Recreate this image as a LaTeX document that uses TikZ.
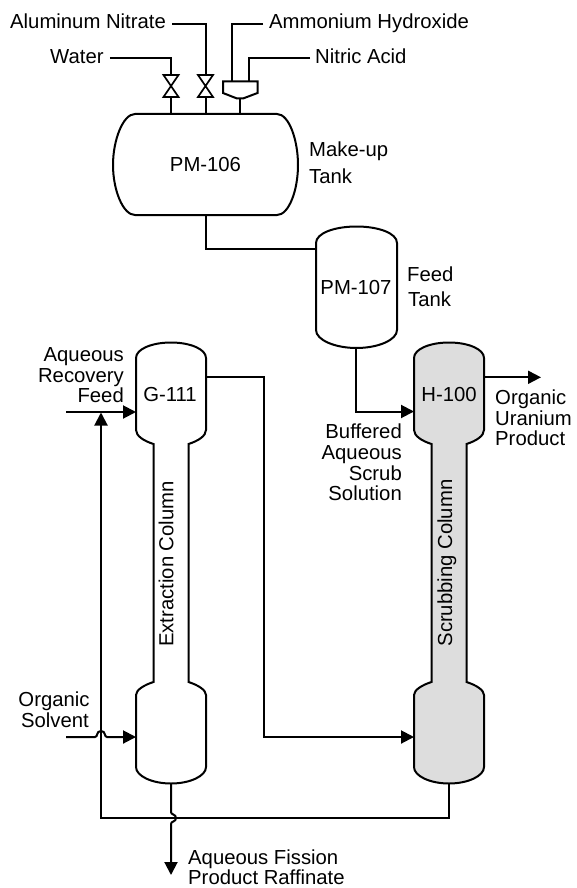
\documentclass[tikz,border=0pt]{standalone}
\usepackage{fontspec}
\setmainfont{Liberation Sans}
\usetikzlibrary{arrows.meta}
\definecolor{vesselgray}{HTML}{DDDDDD}
\tikzset{
  x=1pt,y=-1pt,
  line/.style={line width=2pt,draw=black,line join=miter},
  flow/.style={line,-{Triangle[length=13pt,width=13pt]}},
  lbl/.style={inner sep=0pt,font=\fontsize{20.3}{21}\selectfont,text=black},
  vessel/.style={line,fill=white},
  valveshape/.pic={
    \draw[line,line width=1.7pt,fill=white] (-7.5,0) -- (7.5,0) -- (-7.5,22) -- (7.5,22) -- cycle;
  },
  columnshape/.pic={
    \draw[line,fill=#1]
      (0,358) .. controls (0,349) and (16,342.5) .. (35,342.5)
      .. controls (54,342.5) and (70,349) .. (70,358)
      -- (70,430) .. controls (70,436) and (62,441) .. (52.5,444)
      -- (52.5,682) .. controls (62,685) and (70,690) .. (70,695)
      -- (70,767) .. controls (70,776) and (54,783.5) .. (35,783.5)
      .. controls (16,783.5) and (0,776) .. (0,767)
      -- (0,695) .. controls (0,690) and (8,685) .. (17.5,682)
      -- (17.5,444) .. controls (8,441) and (0,436) .. (0,430) -- cycle;
  }
}
\begin{document}
\begin{tikzpicture}
\useasboundingbox (0,0) rectangle (576,888);
% named points on the equipment
\coordinate (tankTopA) at (171,114);
\coordinate (tankTopB) at (205.5,114);
\coordinate (tankTopC) at (240,114);
\coordinate (tankBottom) at (205.5,215);
\coordinate (feedLeft) at (316,249);
\coordinate (feedBottom) at (356,348);
\coordinate (hIn) at (414,411.5);
\coordinate (hInLow) at (414,737);
\coordinate (hOut) at (484,377.3);
\coordinate (hBottom) at (449,783);
\coordinate (gOut) at (205.5,377.3);
\coordinate (gIn) at (136,412);
\coordinate (gInLow) at (136,737);
\coordinate (gBottom) at (171,783);
\coordinate (funnelStem) at (240,98.5);
\coordinate (funnelA) at (231.5,81.5);
\coordinate (funnelB) at (248.5,81.5);
\coordinate (valveATop) at (171,75);
\coordinate (valveABot) at (171,97);
\coordinate (valveBTop) at (205.5,75);
\coordinate (valveBBot) at (205.5,97);
\coordinate (productEnd) at (541,377.3);
\coordinate (raffEnd) at (171,875);
\coordinate (feedStart) at (66,412);
\coordinate (solvStart) at (66,737);
\coordinate (recycleJoin) at (101,412.5);
% labels
\node[lbl,anchor=base west] (lalum) at (10,29) {Aluminum Nitrate};
\node[lbl,anchor=base west] (lwater) at (50,64) {Water};
\node[lbl,anchor=base west] (lammon) at (269,29) {Ammonium Hydroxide};
\node[lbl,anchor=base west] (lnitric) at (315,64) {Nitric Acid};
% connectors
\draw[line] (lwater.base east |- 0,58.5) ++(6,0) -| (valveATop);
\draw[line] (lalum.base east |- 0,24) ++(6,0) -| (valveBTop);
\draw[line] (lammon.base west |- 0,24) ++(-6,0) -| (funnelA);
\draw[line] (lnitric.base west |- 0,58.5) ++(-5,0) -| (funnelB);
\draw[line] (valveABot) -- (tankTopA);
\draw[line] (valveBBot) -- (tankTopB);
\draw[line] (funnelStem) -- (tankTopC);
\draw[line] (tankBottom) |- (feedLeft);
\draw[flow] (feedBottom) |- (hIn);
\draw[flow] (hOut) -- (productEnd);
\draw[flow] (gOut) -| (264,737) -- (hInLow);
\draw[flow] (feedStart) -- (gIn);
\draw[flow] (hBottom) |- (101,818) -- (recycleJoin);
\draw[flow] (solvStart) -- (95,737) .. controls (98,737) and (96,731) .. (101,731) .. controls (106,731) and (104,737) .. (107,737) -- (gInLow);
\draw[flow] (gBottom) -- (171,812) .. controls (171,815) and (176,814) .. (176,818) .. controls (176,822) and (171,821) .. (171,824) -- (raffEnd);
% equipment
\path (171,75) pic {valveshape};
\path (205.5,75) pic {valveshape};
\draw[vessel] (223,81.5) -- (257.5,81.5) -- (257.5,93) -- (243,98.5) -- (237,98.5) -- (223,93) -- cycle;
\draw[vessel] (135,114) -- (277,114) .. controls (289,114) and (298,140) .. (298,165)
  .. controls (298,190) and (289,215) .. (277,215) -- (135,215)
  .. controls (123,215) and (113,190) .. (113,165) .. controls (113,140) and (123,114) .. (135,114) -- cycle;
\draw[vessel] (316,243) .. controls (316,233) and (335,226.5) .. (356.5,226.5)
  .. controls (378,226.5) and (397,233) .. (397,243) -- (397,330)
  .. controls (397,340) and (378,348) .. (356.5,348) .. controls (335,348) and (316,340) .. (316,330) -- cycle;
\path (136,0) pic {columnshape=white};
\path (414,0) pic {columnshape=vesselgray};
% vessel text
\node[lbl,anchor=base] (t106) at (205.5,171) {PM-106};
\node[lbl,anchor=base] (t107) at (356,294) {PM-107};
\node[lbl,anchor=base] (tg) at (170,401) {G-111};
\node[lbl,anchor=base] (th) at (449,401) {H-100};
\node[lbl,anchor=base,rotate=90] (text) at (173.3,564) {Extraction Column};
\node[lbl,anchor=base,rotate=90] (tscr) at (452,563) {Scrubbing Column};
\node[lbl,anchor=base west] (m1) at (309,157) {Make-up};
\node[lbl,anchor=base west] (m2) at (309,183) {Tank};
\node[lbl,anchor=base west] (f1) at (407,281) {Feed};
\node[lbl,anchor=base west] (f2) at (408,306) {Tank};
\node[lbl,anchor=base east] (a1) at (124,361) {Aqueous};
\node[lbl,anchor=base east] (a2) at (124,382) {Recovery};
\node[lbl,anchor=base east] (a3) at (124,402) {Feed};
\node[lbl,anchor=base east] (b1) at (402,438) {Buffered};
\node[lbl,anchor=base east] (b2) at (402,459) {Aqueous};
\node[lbl,anchor=base east] (b3) at (402,480) {Scrub};
\node[lbl,anchor=base east] (b4) at (402,500) {Solution};
\node[lbl,anchor=base west] (o1) at (495,404) {Organic};
\node[lbl,anchor=base west] (o2) at (495,425) {Uranium};
\node[lbl,anchor=base west] (o3) at (495,445) {Product};
\node[lbl,anchor=base] (s1) at (54,706) {Organic};
\node[lbl,anchor=base] (s2) at (55,727) {Solvent};
\node[lbl,anchor=base west] (r1) at (188,864.5) {Aqueous Fission};
\node[lbl,anchor=base west] (r2) at (188,884.5) {Product Raffinate};
\end{tikzpicture}
\end{document}
